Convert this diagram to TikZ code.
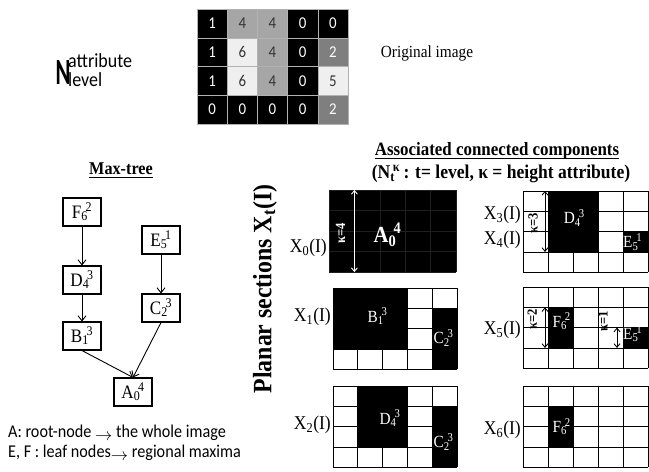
\documentclass[tikz,border=0pt]{standalone}
\usepackage{fontspec}
\setmainfont{Liberation Serif}[FakeStretch=0.9]
\newfontfamily\calib{Carlito}[FakeStretch=0.9]
\usetikzlibrary{arrows.meta, positioning, calc}

% grey levels of the original image
\colorlet{px0}{black}
\colorlet{px1}{black}
\definecolor{px2}{HTML}{7F7F7F}
\definecolor{px4}{HTML}{A6A6A6}
\definecolor{px5}{HTML}{EFEFEF}
\definecolor{px6}{HTML}{EFEFEF}
\colorlet{tx0}{white}
\colorlet{tx1}{white}
\colorlet{tx2}{white}
\definecolor{tx4}{HTML}{333333}
\definecolor{tx5}{HTML}{333333}
\definecolor{tx6}{HTML}{333333}

\newcommand{\cclabel}[3]{#1\textsubscript{#2}\kern-0.12em\textsuperscript{#3}}
\newcommand{\pgridlines}[1]{%
  \foreach \gc in {0,...,5} \draw[#1] (\gc,0) -- (\gc,4);
  \foreach \gr in {0,...,4} \draw[#1] (0,\gr) -- (5,\gr);}

\begin{document}
\begin{tikzpicture}[x=1pt, y=-1pt,
    pixel/.style={draw=gray!60, line width=0.5pt, minimum width=30.2pt, minimum height=28.75pt, inner sep=0pt, font=\calib\fontsize{16.5}{16.5}\selectfont},
    treenode/.style={draw, line width=1.1pt, minimum width=38pt, minimum height=28pt, inner sep=0pt, font=\fontsize{19}{19}\selectfont},
    treearrow/.style={line width=0.9pt, -{Straight Barb[length=5pt, width=8pt]}},
    blocklbl/.style={text=white, inner sep=0pt, font=\fontsize{17}{17}\selectfont},
    kaplbl/.style={rotate=90, inner sep=0pt, font=\bfseries\fontsize{14}{14}\selectfont},
    kaparrow/.style={line width=0.9pt, {Straight Barb[length=3.5pt, width=6pt]}-{Straight Barb[length=3.5pt, width=6pt]}},
    xlbl/.style={anchor=east, inner sep=0pt, font=\fontsize{19.5}{19.5}\selectfont},
    gridline/.style={line width=0.8pt},
    uline/.style={line width=0.9pt},
    bottomtxt/.style={anchor=west, inner sep=0pt, font=\calib\fontsize{18}{18}\selectfont}
]
\useasboundingbox (0,0) rectangle (649,472);

% Original image
\foreach \v [count=\i from 0] in {1,4,4,0,0, 1,6,4,0,2, 1,6,4,0,5, 0,0,0,0,2} {
  \pgfmathtruncatemacro{\col}{mod(\i,5)}
  \pgfmathtruncatemacro{\row}{div(\i,5)}
  \node (p\row\col) [pixel, fill=px\v, text=tx\v] at ({197+30.2*(\col+0.5)}, {9+28.75*(\row+0.5)}) {\v};
}
\node (nbig) [inner sep=0pt, font=\calib\bfseries\fontsize{37}{37}\selectfont] at (63,73) {\scalebox{0.68}[1]{N}};
\node (nattr) [anchor=west, inner sep=0pt, font=\calib\fontsize{20}{20}\selectfont] at (68,61) {attribute};
\node (nlevel) [anchor=west, inner sep=0pt, font=\calib\fontsize{20}{20}\selectfont] at (68,80) {level};
\node (origtitle) [font=\fontsize{17}{17}\selectfont] at (427,53) {Original image};

% Max-tree
\node (mttitle) [inner sep=0pt, font=\bfseries\fontsize{18}{18}\selectfont] at (121,169) {Max-tree};
\draw [uline] ([yshift=-3pt]mttitle.base west) -- ([yshift=-3pt]mttitle.base east);
\node (F) [treenode] at (82,212) {\cclabel{F}{6}{2}};
\node (D) [treenode] at (82,280) {\cclabel{D}{4}{3}};
\node (B) [treenode] at (82,336) {\cclabel{B}{1}{3}};
\node (E) [treenode] at (161,240) {\cclabel{E}{5}{1}};
\node (C) [treenode] at (161,308) {\cclabel{C}{2}{3}};
\node (A) [treenode] at (133,392) {\cclabel{A}{0}{4}};

\draw [treearrow] (F) -- (D);
\draw [treearrow] (D) -- (B);
\draw [treearrow] (E) -- (C);
\draw [treearrow] (B.south) -- (A.north);
\draw [treearrow] (C.south) -- (A.north);

\node (rootnote) [bottomtxt] at (8,433) {A: root-node \raisebox{-0.4ex}{$\rightarrow$}\ the whole image};
\node (leafnote) [bottomtxt] at (8,453) {E, F : leaf nodes\raisebox{-0.4ex}{$\rightarrow$}\ regional maxima};

% Connected components
\node (cctitle) [inner sep=0pt, font=\bfseries\fontsize{18.8}{18.8}\selectfont] at (497,151) {Associated connected components};
\draw [uline] ([yshift=-2.5pt]cctitle.base west) -- ([yshift=-2.5pt]cctitle.base east);
\node (ccsub) [font=\bfseries\fontsize{19.5}{19.5}\selectfont] at (501,174) {(N\textsubscript{t}\kern-0.1em\textsuperscript{κ}\,: t= level, κ = height attribute)};
\node (planar) [rotate=90, font=\bfseries\fontsize{26.5}{26.5}\selectfont] at (265,289) {Planar sections X\textsubscript{t}(I)};

% X0
\begin{scope}[shift={(329,190)}, x=25.4pt, y=-20.5pt]
  \fill (0,0) rectangle (5,4);
  \pgridlines{line width=0.5pt, black!88!white}
  \draw [kaparrow, white] (1,0) -- (1,4);
  \node (k4) [kaplbl, text=white] at (0.45,2.1) {κ=4};
  \node (a0) [blocklbl, font=\bfseries\fontsize{23}{23}\selectfont] at (2.3,2.2) {\cclabel{A}{0}{4}};
\end{scope}
\node (x0) [xlbl] at (327,248) {X\textsubscript{0}(I)};

% X1
\begin{scope}[shift={(333,288)}, x=24.8pt, y=-20.3pt]
  \fill (0,0) rectangle (3,3);
  \fill (4,1) rectangle (5,4);
  \pgridlines{gridline}
  \node (b1) [blocklbl] at (1.8,1.4) {\cclabel{B}{1}{3}};
  \node (c2a) [blocklbl, anchor=west] at (4.05,2.45) {\cclabel{C}{2}{3}};
\end{scope}
\node (x1) [xlbl] at (331,317) {X\textsubscript{1}(I)};

% X2
\begin{scope}[shift={(333,386)}, x=24.8pt, y=-20.3pt]
  \fill (1,0) rectangle (3,3);
  \fill (4,1) rectangle (5,4);
  \pgridlines{gridline}
  \node (d4a) [blocklbl] at (2.3,1.6) {\cclabel{D}{4}{3}};
  \node (c2b) [blocklbl, anchor=west] at (4.05,2.75) {\cclabel{C}{2}{3}};
\end{scope}
\node (x2) [xlbl] at (331,425) {X\textsubscript{2}(I)};

% X3 and X4
\begin{scope}[shift={(523,191)}, x=25pt, y=-20.3pt]
  \fill (1,0) rectangle (3,3);
  \fill (4,2) rectangle (5,3);
  \pgridlines{gridline}
  \draw [kaparrow] (0.88,0) -- (0.88,3);
  \node (k3) [kaplbl] at (0.4,1.6) {κ=3};
  \node (d4b) [blocklbl] at (2.05,1.33) {\cclabel{D}{4}{3}};
  \node (e5a) [blocklbl, anchor=west] at (4.0,2.5) {\cclabel{E}{5}{1}};
\end{scope}
\node (x3) [xlbl] at (521,215) {X\textsubscript{3}(I)};
\node (x4) [xlbl] at (521,240) {X\textsubscript{4}(I)};

% X5
\begin{scope}[shift={(523,287)}, x=25pt, y=-20.3pt]
  \fill (1,1) rectangle (2,3);
  \fill (4,2) rectangle (5,3);
  \pgridlines{gridline}
  \draw [kaparrow] (0.88,1) -- (0.88,3);
  \node (k2) [kaplbl] at (0.37,1.6) {κ=2};
  \node (f6a) [blocklbl] at (1.55,1.7) {\cclabel{F}{6}{2}};
  \draw [kaparrow] (3.76,2) -- (3.76,3);
  \node (k1) [kaplbl] at (3.2,1.7) {κ=1};
  \node (e5b) [blocklbl, anchor=west] at (4.0,2.3) {\cclabel{E}{5}{1}};
\end{scope}
\node (x5) [xlbl] at (521,330) {X\textsubscript{5}(I)};

% X6
\begin{scope}[shift={(523,386)}, x=25pt, y=-20.3pt]
  \fill (1,1) rectangle (2,3);
  \pgridlines{gridline}
  \node (f6b) [blocklbl] at (1.55,2.0) {\cclabel{F}{6}{2}};
\end{scope}
\node (x6) [xlbl] at (521,430) {X\textsubscript{6}(I)};

\end{tikzpicture}
\end{document}
